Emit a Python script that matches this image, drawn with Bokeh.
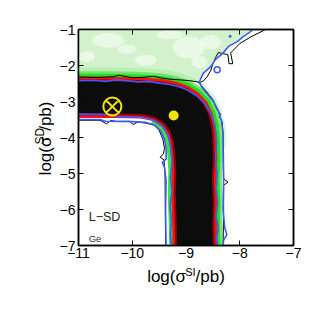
import numpy as np
from bokeh.plotting import figure
from bokeh.layouts import row, column
from bokeh.models import Label, FixedTicker, LinearAxis, Range1d
from bokeh.embed import file_html
from bokeh.resources import INLINE

# ---------------- data ----------------
x_ticks = [-11, -10, -9, -8, -7]
y_ticks = [-7, -6, -5, -4, -3, -2, -1]

# core (black) posterior band: upper/outer edge then lower/inner edge
band_up_x = [-11.3, -10.5, -10.0, -9.7, -9.45, -9.2, -9.0, -8.82, -8.68, -8.59, -8.53, -8.51, -8.50, -8.52, -8.50, -8.51, -8.50, -8.50]
band_up_y = [-2.44, -2.44, -2.45, -2.47, -2.50, -2.57, -2.68, -2.85, -3.07, -3.35, -3.70, -4.10, -4.60, -5.20, -5.80, -6.40, -7.00, -7.30]
band_lo_x = [-9.17, -9.17, -9.19, -9.18, -9.20, -9.23, -9.29, -9.40, -9.58, -9.82, -10.3, -11.3]
band_lo_y = [-7.30, -6.50, -5.60, -4.90, -4.45, -4.10, -3.82, -3.60, -3.43, -3.35, -3.33, -3.33]

# pale (light green) upper-left region
pale_x = [-11.2, -11.2, -7.70, -7.76, -7.80, -7.93, -8.04, -8.21, -8.32, -8.45, -8.54, -8.68, -8.75, -11.2]
pale_y = [-2.45, -0.80, -0.80, -1.00, -1.06, -1.19, -1.33, -1.47, -1.67, -1.83, -2.03, -2.22, -2.45, -2.45]

# lighter mottling in the pale region
blob_x = [-10.45, -9.75, -8.95, -10.85, -9.30, -10.10, -8.75, -8.55]
blob_y = [-1.30, -1.85, -1.50, -1.75, -1.15, -1.55, -1.90, -1.35]
blob_w = [0.60, 0.40, 0.60, 0.30, 0.50, 0.35, 0.30, 0.40]
blob_h = [0.40, 0.30, 0.60, 0.30, 0.25, 0.25, 0.35, 0.40]

# inner (blue) contour, upper branch and lower branch
b1_up_x = [-11.0, -10.7, -10.5, -10.3, -10.1, -9.9, -9.7, -9.5, -9.3, -9.1, -8.95, -8.8, -8.68, -8.6, -8.52, -8.47, -8.44, -8.43, -8.45, -8.42, -8.44, -8.41, -8.44, -8.40, -8.43, -8.41]
b1_up_y = [-2.42, -2.41, -2.44, -2.40, -2.42, -2.46, -2.44, -2.49, -2.53, -2.60, -2.70, -2.84, -3.0, -3.18, -3.4, -3.65, -3.9, -4.2, -4.6, -5.0, -5.4, -5.8, -6.2, -6.5, -6.8, -7.0]
b1_lo_x = [-11.0, -10.4, -10.3, -9.9, -9.7, -9.55, -9.42, -9.33, -9.28, -9.26, -9.29, -9.26, -9.30, -9.27, -9.29, -9.27]
b1_lo_y = [-3.35, -3.36, -3.42, -3.43, -3.47, -3.56, -3.72, -3.95, -4.3, -4.7, -5.1, -5.5, -5.9, -6.3, -6.7, -7.0]

# outer (blue) contour
b2_lo_x = [-11.0, -10.6, -10.5, -10.0, -9.75, -9.58, -9.47, -9.40, -9.37, -9.37, -9.44, -9.40, -9.37, -9.38, -9.37]
b2_lo_y = [-3.50, -3.50, -3.55, -3.56, -3.58, -3.66, -3.82, -4.05, -4.3, -4.6, -4.7, -4.82, -5.2, -6.0, -7.0]
b2_up_x = [-7.76, -7.80, -7.93, -8.04, -8.21, -8.32, -8.45, -8.54, -8.68, -8.75, -8.70, -8.60, -8.49, -8.40, -8.34, -8.31, -8.31, -8.30, -8.31, -8.28, -8.24, -8.30, -8.31]
b2_up_y = [-1.00, -1.06, -1.19, -1.33, -1.47, -1.67, -1.83, -2.03, -2.22, -2.45, -2.62, -2.80, -2.99, -3.25, -3.55, -3.9, -4.5, -5.2, -6.0, -6.5, -6.7, -6.85, -7.0]
blue_dot_x = [-8.18]
blue_dot_y = [-1.19]
blue_ring_x = [-8.42]
blue_ring_y = [-2.12]

# thin black contour pieces
k_up_x = [-11.0, -10.6, -10.35, -10.25, -10.0, -9.8, -9.6, -9.45, -9.3, -9.1, -8.95, -8.8, -8.75, -8.67, -8.61, -8.54, -8.51, -8.45, -8.40, -8.22, -8.20, -8.13, -8.17, -8.0, -7.8, -7.52]
k_up_y = [-2.32, -2.33, -2.31, -2.27, -2.34, -2.33, -2.30, -2.35, -2.38, -2.40, -2.42, -2.45, -2.48, -2.42, -2.32, -2.14, -2.0, -1.78, -1.64, -1.70, -1.95, -1.95, -1.65, -1.39, -1.21, -1.0]
k_rt_x = [-8.75, -8.62, -8.50, -8.43, -8.36, -8.38, -8.33, -8.31, -8.30, -8.30, -8.22, -8.30, -8.30, -8.31]
k_rt_y = [-2.50, -2.72, -2.95, -3.20, -3.35, -3.42, -3.55, -3.90, -4.50, -5.15, -5.24, -5.33, -6.00, -7.00]
k_lo_x = [-11.0, -10.6, -10.48, -10.4, -10.3, -10.05, -9.98, -9.9, -9.75, -9.6, -9.5, -9.43, -9.40, -9.42, -9.48, -9.41, -9.39, -9.38]
k_lo_y = [-3.52, -3.52, -3.62, -3.53, -3.55, -3.55, -3.64, -3.57, -3.60, -3.65, -3.8, -4.05, -4.3, -4.45, -4.55, -4.62, -5.0, -7.0]

# markers
true_x = [-10.37]
true_y = [-3.14]
best_x = [-9.23]
best_y = [-3.39]

x_label_parts = ["log(\u03c3", "SI", "/pb)"]
y_label_parts = ["log(\u03c3", "SD", "/pb)"]

# ---------------- layout constants (pixels) ----------------
FONT = "Liberation Sans"
BLUE = "#3a5cff"
YEL = "#f2e400"
FW, FH = 215, 216          # frame size
BL, BR, BT, BB = 22, 23, 29, 20   # borders of main figure
YLAB_W = 56                # left label strip (frame left = 56 + 22 = 78)
XLAB_H = 45
MAIN = 17

p = figure(frame_width=FW, frame_height=FH,
           x_range=Range1d(-11, -7), y_range=Range1d(-7, -1),
           output_backend="svg", toolbar_location=None,
           min_border_left=BL, min_border_right=BR, min_border_top=BT, min_border_bottom=BB,
           background_fill_color="white", border_fill_color="white",
           outline_line_color="black", outline_line_width=1.5)
p.grid.visible = False

def style_axis(ax, ticks, show_labels, standoff):
    ax.ticker = FixedTicker(ticks=ticks)
    ax.major_tick_in = 5
    ax.major_tick_out = 0
    ax.minor_tick_line_color = None
    ax.axis_line_width = 1.5
    ax.major_tick_line_width = 1
    ax.major_label_text_font = FONT
    ax.major_label_text_font_size = "14px"
    ax.major_label_standoff = standoff
    ax.axis_label_standoff = 0
    if show_labels:
        ax.major_label_overrides = {t: "\u2212" + str(abs(t)) for t in ticks}
        ax.major_label_text_color = "black"
    else:
        ax.major_label_text_color = None

style_axis(p.xaxis[0], x_ticks, True, 2)
style_axis(p.yaxis[0], y_ticks, True, 3)
top_ax = LinearAxis()
right_ax = LinearAxis()
style_axis(top_ax, x_ticks, False, 0)
style_axis(right_ax, y_ticks, False, 0)
p.add_layout(top_ax, "above")
p.add_layout(right_ax, "right")

# pale region
p.patch(pale_x, pale_y, fill_color="#d3f2cb", line_color=None)
p.ellipse(blob_x, blob_y, width=blob_w, height=blob_h, fill_color="#eefbec", fill_alpha=0.8, line_color=None)

# glow along band edges
p.line(band_up_x[:12], band_up_y[:12], line_color="#9be895", line_width=28, line_alpha=0.45, line_cap="round", line_join="round")
p.line(band_up_x, band_up_y, line_color="#5fe05a", line_width=20, line_alpha=0.8, line_join="round")
p.line(band_up_x, band_up_y, line_color="#22dd22", line_width=15, line_join="round")
p.line(band_lo_x[:9], band_lo_y[:9], line_color="#3fe03f", line_width=16, line_join="round")

# red fringe and black core
band_x = band_up_x + band_lo_x
band_y = band_up_y + band_lo_y
p.patch(band_x, band_y, fill_color=None, line_color="#ff1010", line_width=9, line_join="round")
p.patch(band_x, band_y, fill_color=None, line_color="#9a0000", line_width=4, line_join="round")
p.patch(band_x, band_y, fill_color="#0c0c0c", line_color=None)

# contours
for xs, ys in [(k_up_x, k_up_y), (k_rt_x, k_rt_y), (k_lo_x, k_lo_y)]:
    p.line(xs, ys, line_color="black", line_width=1)
for xs, ys in [(b1_up_x, b1_up_y), (b1_lo_x, b1_lo_y), (b2_lo_x, b2_lo_y), (b2_up_x, b2_up_y)]:
    p.line(xs, ys, line_color=BLUE, line_width=1.6, line_join="round")
p.scatter(blue_dot_x, blue_dot_y, marker="circle", size=3, fill_color=BLUE, line_color=None)
p.scatter(blue_ring_x, blue_ring_y, marker="circle", size=6, fill_color=None, line_color=BLUE, line_width=1.5)

# markers
p.scatter(true_x, true_y, marker="circle_x", size=18, fill_color=None, line_color=YEL, line_width=2)
p.scatter(best_x, best_y, marker="circle", size=10, fill_color=YEL, line_color=None)

# in-plot texts
p.add_layout(Label(x=-10.81, y=-6.22, text="L\u2212SD", text_font=FONT, text_font_size="12.5px",
                   text_color="#222222", text_baseline="alphabetic"))
p.add_layout(Label(x=-10.81, y=-6.81, text="Ge", text_font=FONT, text_font_size="9.5px",
                   text_color="#333333", text_baseline="alphabetic"))

# ---------------- axis titles in side strips ----------------
W = {"l": .222, "o": .556, "g": .556, "(": .333, ")": .333, "\u03c3": .57, "/": .278,
     "p": .556, "b": .556, "S": .667, "I": .278, "D": .722}
def tw(s, size):
    return sum(W[c] for c in s) * size

def strip(w, h):
    f = figure(width=w, height=h, x_range=Range1d(0, w), y_range=Range1d(0, h),
               output_backend="svg", toolbar_location=None, x_axis_type=None, y_axis_type=None,
               min_border=0, outline_line_color=None, background_fill_color="white",
               border_fill_color="white")
    f.grid.visible = False
    return f

def place_parts(fig, parts, horizontal, center, base, sup_size, sup_raise):
    sizes = [MAIN, sup_size, MAIN]
    raises = [0, sup_raise, 0]
    total = sum(tw(s, f) for s, f in zip(parts, sizes))
    pos = center - total / 2
    for s, f, r in zip(parts, sizes, raises):
        if horizontal:
            lab = Label(x=pos, y=base + r, text=s, text_font=FONT, text_font_size=f"{f}px",
                        text_align="left", text_baseline="alphabetic", text_color="black")
        else:
            lab = Label(x=base - r, y=pos, text=s, angle=np.pi / 2, text_font=FONT,
                        text_font_size=f"{f}px", text_align="left", text_baseline="alphabetic",
                        text_color="black")
        fig.add_layout(lab)
        pos += tw(s, f)

main_h = BT + FH + BB
ylab = strip(YLAB_W, main_h)
place_parts(ylab, y_label_parts, False, center=main_h - 137, base=45, sup_size=12, sup_raise=6)

total_w = YLAB_W + BL + FW + BR
xlab = strip(total_w, XLAB_H)
place_parts(xlab, x_label_parts, True, center=YLAB_W + BL + FW / 2, base=XLAB_H - 11,
            sup_size=11, sup_raise=5)

layout = column(row(ylab, p), xlab)
open("out.html", "w").write(file_html(layout, INLINE))
